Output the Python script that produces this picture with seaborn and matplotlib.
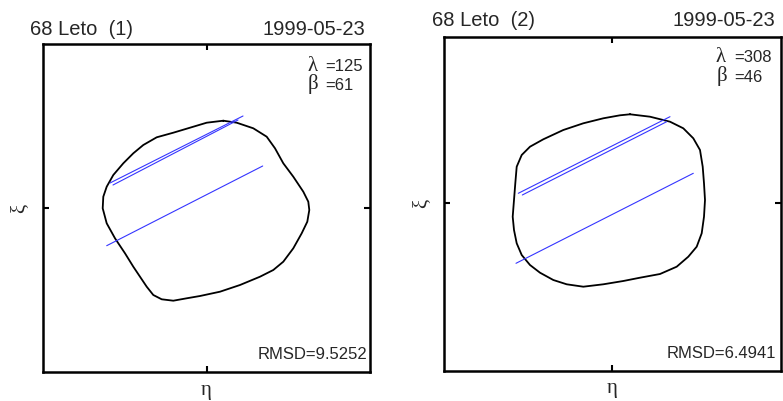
import numpy as np
import pandas as pd
import matplotlib
matplotlib.use("Agg")
import matplotlib.pyplot as plt
import seaborn as sns

# ---------------- data (panel-centred units) ----------------
titles = ["68 Leto  (1)", "68 Leto  (2)"]
dates = ["1999-05-23", "1999-05-23"]
lambdas = [125, 308]
betas = [61, 46]
rmsd = ["9.5252", "6.4941"]

contour1_x = [16.3, 29.7, 46.3, 59.7, 68, 76.3, 86.3, 96.3, 101.3, 102.3, 100.3, 94.7, 86.3, 76.3,
              66.3, 53, 33, 13, -7, -20.3, -33.7, -45.3, -53.7, -60.3, -67, -73.7, -82, -92,
              -100.3, -104.3, -103.7, -100.3, -93.7, -83.7, -73.7, -63.7, -50.3, -33.7, -17, -0.3, 16.3]
contour1_y = [87.3, 85.3, 79.7, 71.3, 59.7, 44.7, 31.3, 16.3, 6.3, -2, -13.7, -25.3, -40.3, -53.7,
              -62, -68.7, -77, -83.7, -88, -90.3, -92.7, -91.3, -87, -78.7, -68.7, -58.7, -45.3, -30.3,
              -15.3, -0.3, 11.3, 21.3, 33, 44.7, 54.7, 63, 70.7, 75.3, 80.3, 85.3, 87.3]

contour2_x = [18, 38, 58, 71.3, 81.3, 88, 90.7, 92, 93, 92, 89.7, 84.7, 76.3, 64.7, 48, 28, 11.3,
              -8.7, -28.7, -45.3, -58.7, -72, -82, -90.3, -95.3, -98, -99.3, -98, -96.7, -95.3,
              -90.3, -82, -68.7, -48.7, -28.7, -8.7, 8, 18]
contour2_y = [88.4, 86, 81, 74.4, 64.4, 52.7, 36, 19.4, 2.7, -14, -30.6, -44, -54, -64, -71.3, -75,
              -78.3, -81.6, -84, -81.6, -77.3, -70, -62.3, -52.3, -40.6, -27.3, -14, 2.7, 19.4, 36,
              47.7, 56, 63.4, 72.7, 79.4, 84.4, 87.4, 88.4]

# chords: (x_start, y_start, x_end, y_end)
chords1_x0 = [-97, -94, -100.3]
chords1_y0 = [25, 23, -37.7]
chords1_x1 = [36, 31, 55.7]
chords1_y1 = [92, 88, 42]

chords2_x0 = [-93.7, -89.7, -96]
chords2_y0 = [9.4, 7.7, -60.6]
chords2_x1 = [58, 54.7, 81.3]
chords2_y1 = [86, 81, 29.4]

# ---------------- figure ----------------
sns.set_theme(style="white")
plt.rcParams['font.family'] = ['Liberation Sans', 'DejaVu Sans']

W, H = 783, 401
fig = plt.figure(figsize=(W / 100, H / 100), dpi=100)


def fx(px):
    return px / W


def fy(py):
    return 1 - py / H


SERIF = ['Liberation Serif', 'DejaVu Serif']

panels = [
    dict(box=(43, 44, 370, 372), xlim=(-164, 163), ylim=(-164, 164),
         cx=contour1_x, cy=contour1_y,
         ch=(chords1_x0, chords1_y0, chords1_x1, chords1_y1),
         title_x=30, title_y=35, date_x=365,
         lam_x=307, lam_val_x=325, lam_y=71, bet_y=90,
         rmsd_x=367, rmsd_y=359, ylab_x=20, xlab_y=390),
    dict(box=(444.3, 36.7, 780.7, 370.7), xlim=(-167.7, 168.7), ylim=(-168, 166),
         cx=contour2_x, cy=contour2_y,
         ch=(chords2_x0, chords2_y0, chords2_x1, chords2_y1),
         title_x=431.7, title_y=26, date_x=775,
         lam_x=716, lam_val_x=734, lam_y=62, bet_y=82,
         rmsd_x=776.5, rmsd_y=358, ylab_x=422, xlab_y=389),
]

for i, p in enumerate(panels):
    x0, y0, x1, y1 = p['box']
    ax = fig.add_axes([fx(x0), fy(y1), (x1 - x0) / W, (y1 - y0) / H])

    df_c = pd.DataFrame({'x': p['cx'], 'y': p['cy']})
    sns.lineplot(data=df_c, x='x', y='y', sort=False, estimator=None, color='black',
                 lw=1.3, ax=ax)

    cx0, cy0, cx1, cy1 = p['ch']
    rows = []
    for k in range(len(cx0)):
        rows.append(dict(x=cx0[k], y=cy0[k], seg=k))
        rows.append(dict(x=cx1[k], y=cy1[k], seg=k))
    df_l = pd.DataFrame(rows)
    sns.lineplot(data=df_l, x='x', y='y', units='seg', sort=False, estimator=None,
                 color='#3535ff', lw=0.8, ax=ax)

    ax.set_xlim(*p['xlim'])
    ax.set_ylim(*p['ylim'])
    ax.set_xticks([0])
    ax.set_yticks([0])
    ax.set_xticklabels([])
    ax.set_yticklabels([])
    ax.tick_params(direction='in', length=4, width=1.5, color='black',
                   top=True, right=True, bottom=True, left=True)
    ax.set_xlabel('')
    ax.set_ylabel('')
    for s in ax.spines.values():
        s.set_visible(True)
        s.set_color('black')
        s.set_linewidth(1.8)

    # titles
    fig.text(fx(p['title_x']), fy(p['title_y']), titles[i], fontsize=14.5,
             ha='left', va='baseline')
    fig.text(fx(p['date_x']), fy(p['title_y']), dates[i], fontsize=14.5,
             ha='right', va='baseline')

    # lambda / beta
    fig.text(fx(p['lam_x']), fy(p['lam_y']), 'λ', fontsize=15,
             family=SERIF, ha='left', va='baseline')
    fig.text(fx(p['lam_val_x']), fy(p['lam_y']), '=%d' % lambdas[i], fontsize=12,
             ha='left', va='baseline')
    fig.text(fx(p['lam_x'] + 1), fy(p['bet_y'] - 1), 'β', fontsize=15,
             family=SERIF, ha='left', va='baseline')
    fig.text(fx(p['lam_val_x']), fy(p['bet_y']), '=%d' % betas[i], fontsize=12,
             ha='left', va='baseline')

    # RMSD
    fig.text(fx(p['rmsd_x']), fy(p['rmsd_y']), 'RMSD=' + rmsd[i], fontsize=12,
             ha='right', va='baseline')

    # axis labels
    xc = (x0 + x1) / 2
    fig.text(fx(xc), fy(p['xlab_y']), 'η', fontsize=15,
             family=SERIF, ha='center', va='center')
    yc = (y0 + y1) / 2
    fig.text(fx(p['ylab_x']), fy(yc), 'ξ', fontsize=15, rotation=90,
             family=SERIF, ha='center', va='center')

fig.savefig('out.png', dpi=100)
